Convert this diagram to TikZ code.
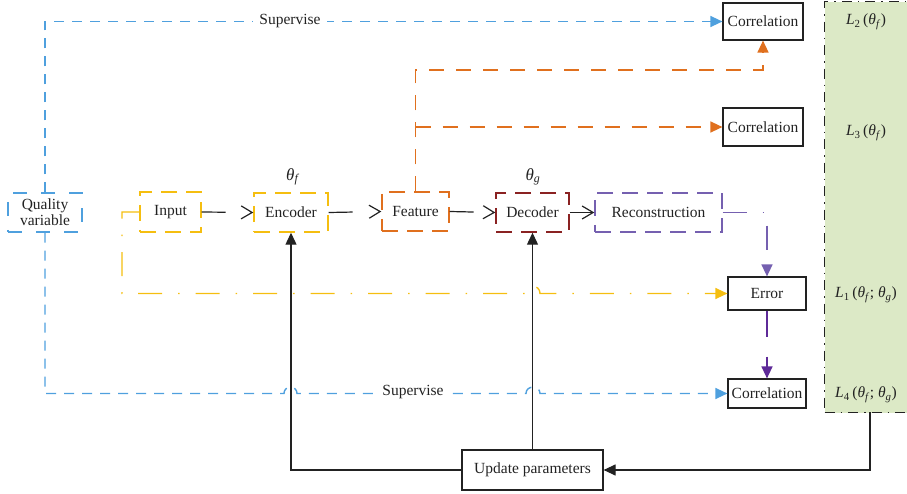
\documentclass[tikz,border=0pt]{standalone}
\usepackage{fontspec}
\setmainfont{Liberation Serif}
\usetikzlibrary{arrows.meta}
\definecolor{cblue}{HTML}{4FA0DE}
\definecolor{cyellow}{HTML}{F5BE10}
\definecolor{corange}{HTML}{E0701E}
\definecolor{cdred}{HTML}{8A2222}
\definecolor{cpurple}{HTML}{7560B0}
\definecolor{cdpurple}{HTML}{5E2A98}
\definecolor{cgreen}{HTML}{DCE9C6}
\definecolor{cgray}{HTML}{222222}
\newcommand{\thf}{\textit{θ}\textsubscript{\textit{f}}}
\newcommand{\thg}{\textit{θ}\textsubscript{\textit{g}}}
\begin{document}
\begin{tikzpicture}[x=1pt,y=-1pt, font=\fontsize{15.5}{17}\selectfont,
  sbox/.style={draw=cgray, line width=1.2pt, inner sep=0pt, text=cgray},
  dbox/.style={draw, line width=1.4pt, dash pattern=on 16pt off 9pt, inner sep=0pt, text=cgray},
  ftri/.style={-{Triangle[length=12pt,width=11pt]}},
  chev/.style={cgray, line width=1.2pt, -{Straight Barb[length=11pt,width=13pt,line width=1.2pt]}, dash pattern=on 24pt off 200pt},
  bdash/.style={cblue, line width=1.4pt, dash pattern=on 10pt off 8pt},
  odash/.style={corange, line width=1.4pt, dash pattern=on 15pt off 12pt},
  ddot/.style={line width=1.4pt, dash pattern=on 24pt off 16pt on 1.5pt off 16pt},
  bline/.style={cgray, line width=1.2pt},
  lbl/.style={text=cgray, inner sep=1pt}]
\useasboundingbox (0,0) rectangle (907,494);

% green panel
\node (panel) [anchor=north west, fill=cgreen, draw=cgray, line width=1.2pt,
  dash pattern=on 10pt off 6pt on 1.5pt off 6pt,
  minimum width=90pt, minimum height=411pt, inner sep=0pt] at (824,1) {};
\node[lbl] (l2) at (866,22) {\textit{L}\textsubscript{2}\,(\thf)};
\node[lbl] (l3) at (866,133) {\textit{L}\textsubscript{3}\,(\thf)};
\node[lbl] (l1) at (866,295) {\textit{L}\textsubscript{1}\,(\thf; \thg)};
\node[lbl] (l4) at (866,395) {\textit{L}\textsubscript{4}\,(\thf; \thg)};

% right boxes
\node[sbox, minimum width=80pt, minimum height=37pt] (c1) at (763,21.5) {Correlation};
\node[sbox, minimum width=80pt, minimum height=38pt] (c2) at (763,127) {Correlation};
\node[sbox, minimum width=78pt, minimum height=33pt] (err) at (767,293.5) {Error};
\node[sbox, minimum width=78pt, minimum height=29pt] (c4) at (767,393.5) {Correlation};
\node[sbox, minimum width=141pt, minimum height=40pt] (upd) at (532.5,470) {Update parameters};

% main row
\node[dbox, draw=cblue, dash pattern=on 14pt off 14pt, minimum width=74pt, minimum height=39pt, align=center,
  font=\fontsize{15.5}{16}\selectfont] (q) at (45,212.5) {Quality\\variable};
\node[dbox, draw=cyellow, minimum width=61pt, minimum height=40pt] (in) at (170.5,212) {Input};
\node[dbox, draw=cyellow, minimum width=74pt, minimum height=39pt] (enc) at (291,212.5) {Encoder};
\node[dbox, draw=corange, minimum width=67pt, minimum height=39pt] (feat) at (415.5,211.5) {Feature};
\node[dbox, draw=cdred, minimum width=73pt, minimum height=39pt] (dec) at (532.5,212.5) {Decoder};
\node[dbox, draw=cpurple, minimum width=127pt, minimum height=39pt] (rec) at (658.5,212.5) {Reconstruction};
\node[lbl, font=\fontsize{17}{18}\selectfont] (tf) at (293,177) {\thf};
\node[lbl, font=\fontsize{17}{18}\selectfont] (tg) at (533,177) {\thg};

% chevron arrows
\draw[chev] (in.east) -- (enc.west);
\draw[chev] (enc.east) -- (feat.west);
\draw[chev] (feat.east) -- (dec.west);
\draw[chev] (dec.east) -- (rec.west);

% black feedback
\coordinate (pb) at (870,412);
\draw[bline, ftri] (pb) |- (upd.east);
\draw[bline, ftri] (upd.west) -| (enc.south);
\draw[bline, ftri] (upd.north) -- (dec.south);

% blue supervise lines
\draw[bdash, ftri] (q.north) |- (c1.west);
\node[fill=white, lbl, inner xsep=6pt] (sup1) at (290,21) {Supervise};
\draw[bdash, ftri] (q.south) -- (45,393.5) -- (284,393.5)
  .. controls (284,385) and (297,385) .. (297,393.5) -- (526,393.5)
  .. controls (526,385) and (540,385) .. (540,393.5) -- (c4.west);
\node[fill=white, lbl, inner xsep=8pt] (sup2) at (413,392) {Supervise};

% orange lines
\coordinate (o1) at (763,70);
\draw[odash, ftri] (feat.north) |- (o1) -- (c1.south);
\draw[odash, ftri] (feat.north |- c2.west) -- (c2.west);

% yellow error line
\draw[ddot, cyellow, ftri] (in.west) -- (122,212) -- (122,293.5) -- (526,293.5)
  .. controls (526,284) and (540,284) .. (540,293.5) -- (err.west);

% purple lines
\draw[ddot, cpurple, ftri] (rec.east) -| (err.north);
\draw[ddot, cdpurple, dash pattern=on 26pt off 20pt, ftri] (err.south) -- (c4.north);
\end{tikzpicture}
\end{document}
